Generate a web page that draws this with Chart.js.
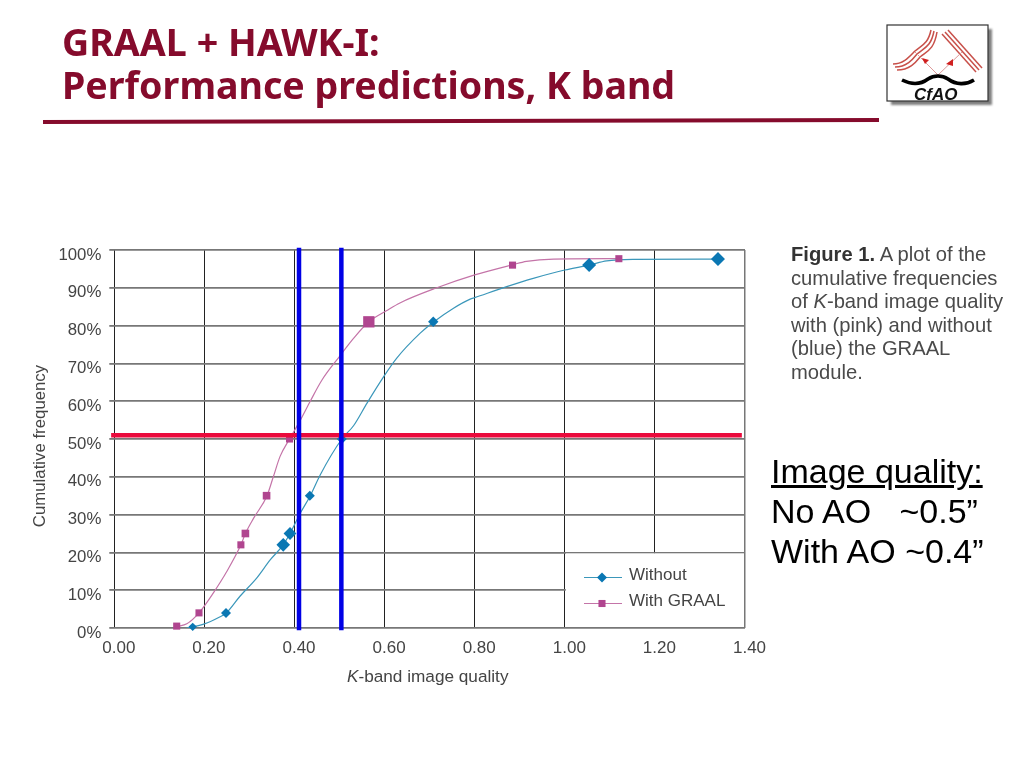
<!DOCTYPE html>
<html>
<head>
<meta charset="utf-8">
<title>GRAAL + HAWK-I</title>
<script src="https://cdn.jsdelivr.net/npm/chart.js@4"></script>
<style>
  html, body { margin: 0; padding: 0; background: #fff; overflow: hidden; }
  #page { position: relative; width: 1024px; height: 768px; overflow: hidden; }
  #page > * { position: absolute; }
  canvas { left: 0; top: 0; }
  .title { left: 62px; top: 20px; color: #850b2c; font: bold 37.6px/43px "Noto Sans", sans-serif; white-space: pre; }
  .rule { left: 43px; top: 118.5px; width: 836px; height: 3.5px; background: #850b2c; transform: rotate(-0.12deg); }
  .caption { left: 791px; top: 243px; color: #4a4a4a; font: 20.2px/23.6px "Liberation Sans", sans-serif; white-space: pre; }
  .caption b { color: #333; }
  .note { left: 771px; top: 451px; color: #000; font: 34px/40px "Liberation Sans", sans-serif; white-space: pre; }
  .xtitle { left: 347px; top: 667px; color: #444; font: 17.2px/18px "Liberation Sans", sans-serif; white-space: pre; }
  .logo { left: 884px; top: 22px; }
</style>
</head>
<body>
<div id="page">
  <canvas id="chart" width="1024" height="768"></canvas>
  <div class="title">GRAAL + HAWK-I:
Performance predictions, K band</div>
  <div class="rule"></div>
  <svg class="logo" width="112" height="88" viewBox="0 0 112 88">
    <rect x="7" y="7" width="101" height="76" fill="#555" opacity="0.75" style="filter: blur(1.2px)"/>
    <rect x="3" y="3" width="101" height="76" fill="#fff" stroke="#333" stroke-width="1.2"/>
    <g fill="none" stroke="#c8504a" stroke-width="1.5">
      <path d="M9 42 C20 42 26 34 31 29 C38 23 44 22 47 8"/>
      <path d="M11 45 C23 45 29 37 33 32 C40 26 47 25 50 9"/>
      <path d="M13 48 C26 48 32 40 36 35 C43 29 50 28 53 10"/>
      <path d="M58 12 L92 50"/><path d="M61 10 L95 48"/><path d="M64 8 L98 46"/>
    </g>
    <path d="M31 30 L54 53 L78 30" fill="none" stroke="#d99" stroke-width="1"/>
    <path d="M38 36 l7 2 l-4 4 z M62 42 l7 -5 l0 7 z" fill="#d02020"/>
    <path d="M18 58 C28 63 36 63 44 57 C50 53 58 53 64 57 C72 63 82 63 90 58" fill="none" stroke="#000" stroke-width="3.6"/>
    <text x="30" y="78" font-family="Liberation Sans" font-weight="bold" font-style="italic" font-size="17" fill="#111">CfAO</text>
  </svg>
  <div class="caption"><b>Figure 1.</b> A plot of the
cumulative frequencies
of <i>K</i>-band image quality
with (pink) and without
(blue) the GRAAL
module.</div>
  <div class="note"><u>Image quality:</u>
No AO   ~0.5”
With AO ~0.4”</div>
  <div class="xtitle"><i>K</i>-band image quality</div>
</div>

<script>
// curve, without GRAAL
const withoutX = [0.16, 0.20, 0.235, 0.248, 0.279, 0.316, 0.346, 0.375, 0.39, 0.413, 0.435, 0.457, 0.505, 0.531, 0.561, 0.598, 0.627, 0.679, 0.708, 0.753, 0.79, 0.80, 0.871, 0.93, 1.00, 1.054, 1.093, 1.152, 1.34];
const withoutY = [0, 1.1, 3, 3.9, 8.4, 13.2, 18, 22, 25, 30.4, 35, 40.5, 50, 53.5, 59.5, 66.5, 71.4, 78, 80.9, 84.6, 87, 87.4, 90.3, 92.5, 94.7, 96, 97.1, 97.5, 97.6];
// curve, with GRAAL
const graalX = [0.139, 0.161, 0.188, 0.22, 0.25, 0.281, 0.291, 0.309, 0.339, 0.353, 0.368, 0.389, 0.413, 0.435, 0.461, 0.501, 0.531, 0.565, 0.605, 0.634, 0.716, 0.80, 0.884, 0.915, 0.975, 1.12];
const graalY = [0.4, 1.1, 4, 9.3, 15, 22, 25, 29, 35, 40, 45.4, 50, 55, 60, 65.6, 72, 76.6, 81, 84, 86, 90, 93.4, 96.1, 97, 97.6, 97.7];
// plotted markers
const withoutMarkX = [0.174, 0.248, 0.375, 0.39, 0.434, 0.505, 0.708, 1.054, 1.34];
const withoutMarkY = [0.3, 4, 22, 25, 35, 50, 81, 96, 97.6];
const graalMarkX = [0.1385, 0.188, 0.281, 0.291, 0.338, 0.389, 0.565, 0.884, 1.12];
const graalMarkY = [0.5, 4, 22, 25, 35, 50, 81, 96, 97.7];
// hand-drawn overlay lines on the slide
const medianY = 51;
const medianXRange = [-0.007, 1.393];
const qualityX = [0.41, 0.504];
const qualityYRange = [-0.6, 100.6];
const seriesNames = ['Without', 'With GRAAL'];

const BLUE = '#0a77b3', BLUE_LINE = '#3b97ba';
const PINK = '#b0458f', PINK_LINE = '#c474a8';
const zip = (xs, ys) => xs.map((x, i) => ({ x, y: ys[i] }));

// white patch behind the legend, it hides the grid like in the original
const legendBox = {
  id: 'legendBox',
  beforeDatasetsDraw(chart) {
    const { ctx, scales: { x, y } } = chart;
    const left = x.getPixelForValue(1.0) + 1, right = x.getPixelForValue(1.4) - 1;
    const top = y.getPixelForValue(20) + 1, bottom = y.getPixelForValue(0) - 1;
    ctx.save();
    ctx.fillStyle = '#fff';
    ctx.fillRect(left, top, right - left, bottom - top);
    ctx.restore();
  },
  afterDatasetsDraw(chart) {
    const { ctx } = chart;
    const rows = [
      { name: seriesNames[0], y: 577.5, line: BLUE_LINE, color: BLUE, style: 'rectRot', r: 5 },
      { name: seriesNames[1], y: 603.5, line: PINK_LINE, color: PINK, style: 'rect', r: 5 },
    ];
    ctx.save();
    rows.forEach((row) => {
      ctx.strokeStyle = row.line;
      ctx.lineWidth = 1.2;
      ctx.beginPath();
      ctx.moveTo(584, row.y);
      ctx.lineTo(622, row.y);
      ctx.stroke();
      ctx.fillStyle = row.color;
      ctx.strokeStyle = row.color;
      Chart.helpers.drawPoint(ctx, { pointStyle: row.style, radius: row.r, borderWidth: 0 }, 602, row.y);
      ctx.fillStyle = '#444';
      ctx.font = '17px "Liberation Sans"';
      ctx.textBaseline = 'middle';
      ctx.fillText(row.name, 629, row.y - 2);
    });
    ctx.restore();
  },
};

const overlay = (data, color, width, order) => ({
  data, order,
  showLine: true,
  borderColor: color,
  borderWidth: width,
  pointRadius: 0,
  clip: false,
});

new Chart(document.getElementById('chart'), {
  type: 'scatter',
  plugins: [legendBox],
  data: {
    datasets: [
      overlay([{ x: qualityX[0], y: qualityYRange[0] }, { x: qualityX[0], y: qualityYRange[1] }], '#0000e6', 4.5, 1),
      overlay([{ x: qualityX[1], y: qualityYRange[0] }, { x: qualityX[1], y: qualityYRange[1] }], '#0000e6', 4.5, 1),
      overlay([{ x: medianXRange[0], y: medianY }, { x: medianXRange[1], y: medianY }], '#ea0a3c', 4.5, 2),
      {
        data: zip(withoutMarkX, withoutMarkY), order: 3, backgroundColor: BLUE, borderWidth: 0,
        pointStyle: 'rectRot', clip: false,
        pointRadius: [4.2, 5, 6.8, 6.4, 5, 5, 5.2, 7, 7],
      },
      {
        data: zip(graalMarkX, graalMarkY), order: 3, backgroundColor: PINK, borderWidth: 0,
        pointStyle: 'rect', clip: false,
        pointRadius: [5, 5, 5, 5.4, 5.4, 5, 8, 5, 5],
      },
      { data: zip(withoutX, withoutY), order: 4, showLine: true, borderColor: BLUE_LINE, borderWidth: 1.2, pointRadius: 0, cubicInterpolationMode: 'monotone' },
      { data: zip(graalX, graalY), order: 4, showLine: true, borderColor: PINK_LINE, borderWidth: 1.2, pointRadius: 0, cubicInterpolationMode: 'monotone' },
    ],
  },
  options: {
    responsive: false,
    animation: false,
    devicePixelRatio: 1,
    layout: { padding: { left: 30, right: 279, top: 250, bottom: 70 } },
    plugins: { legend: { display: false }, tooltip: { enabled: false } },
    font: { family: '"Liberation Sans"' },
    scales: {
      x: {
        type: 'linear', min: 0, max: 1.4,
        afterFit: (scale) => { scale.height = 70; },
        border: { display: false },
        grid: {
          color: (c) => (c.tick && c.tick.value > 1.39 ? '#777' : '#222'),
          lineWidth: (c) => (c.tick && c.tick.value > 1.39 ? 1.5 : 1),
          drawTicks: false,
        },
        ticks: {
          stepSize: 0.2, padding: 10, labelOffset: 4.5, maxRotation: 0,
          color: '#444', font: { size: 17 },
          callback: (v) => v.toFixed(2),
        },
      },
      y: {
        min: 0, max: 100,
        afterFit: (scale) => { scale.width = 84.3; },
        border: { display: false },
        grid: { color: '#777', lineWidth: 1.8, tickLength: 5 },
        ticks: {
          stepSize: 10, padding: 8, labelOffset: 5,
          color: '#444', font: { size: 16.8 },
          callback: (v) => v + '%',
        },
        title: {
          display: true, text: 'Cumulative frequency   ',
          color: '#444', font: { size: 16.8 }, padding: { top: 0, bottom: 0 },
        },
      },
    },
  },
});
</script>
</body>
</html>
